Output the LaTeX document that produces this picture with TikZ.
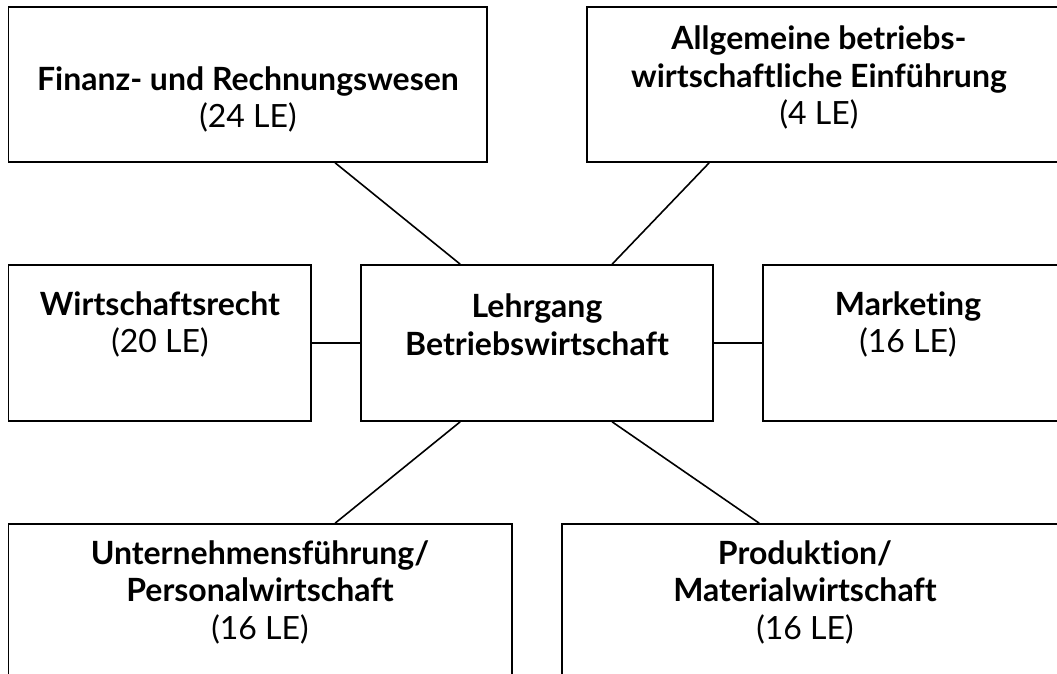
\documentclass[tikz,border=0pt]{standalone}
\usepackage{fontspec}
\setmainfont{Lato}[Ligatures={NoCommon,NoContextual}]
\usetikzlibrary{positioning,calc}
\tikzset{
  box/.style={draw=black, line width=1.7pt, rectangle, inner sep=0pt},
  txt/.style={align=center, inner sep=0pt, font=\fontsize{32}{37.5}\selectfont},
  conn/.style={draw=black, line width=1.6pt}
}
\begin{document}
\begin{tikzpicture}[x=1pt,y=-1pt]
\useasboundingbox (0,0) rectangle (1057,674);
\clip (0,0) rectangle (1057,674);
% boxes
\node[box, minimum width=478.5pt, minimum height=155pt] (fin) at (247.75,84.5) {};
\node[box, minimum width=472pt, minimum height=155pt] (allg) at (823,84.5) {};
\node[box, minimum width=302.2pt, minimum height=156pt] (wr) at (159.6,343) {};
\node[box, minimum width=352.3pt, minimum height=156pt] (lg) at (536.85,343) {};
\node[box, minimum width=296pt, minimum height=156pt] (mk) at (911,343) {};
\node[box, minimum width=503.5pt, minimum height=176pt] (un) at (260.25,612) {};
\node[box, minimum width=497pt, minimum height=176pt] (pr) at (810.5,612) {};
% texts
\node[txt] (fin-t) at (248,99.5) {\textbf{Finanz- und Rechnungswesen}\\(24 LE)};
\node[txt] (allg-t) at (819,77.5) {\textbf{Allgemeine betriebs-}\\\textbf{wirtschaftliche Einführung}\\(4 LE)};
\node[txt] (wr-t) at (160,324.5) {\textbf{Wirtschaftsrecht}\\(20 LE)};
\node[txt] (lg-t) at (537,324.5) {\textbf{Lehrgang}\\\textbf{Betriebswirtschaft}};
\node[txt] (mk-t) at (908,324.5) {\textbf{Marketing}\\(16 LE)};
\node[txt] (un-t) at (260,592) {\textbf{Unternehmensführung/}\\\textbf{Personalwirtschaft}\\(16 LE)};
\node[txt] (pr-t) at (805,592) {\textbf{Produktion/}\\\textbf{Materialwirtschaft}\\(16 LE)};
% connectors
\draw[conn] ([xshift=100.3pt]lg.north west) -- ([xshift=327.5pt]fin.south west);
\draw[conn] ([xshift=252.3pt]lg.north west) -- ([xshift=123pt]allg.south west);
\draw[conn] (wr.east |- lg.west) -- (lg.west);
\draw[conn] (lg.east) -- (mk.west |- lg.east);
\draw[conn] ([xshift=100.3pt]lg.south west) -- ([xshift=327.5pt]un.north west);
\draw[conn] ([xshift=252.3pt]lg.south west) -- ([xshift=198pt]pr.north west);
\end{tikzpicture}
\end{document}
